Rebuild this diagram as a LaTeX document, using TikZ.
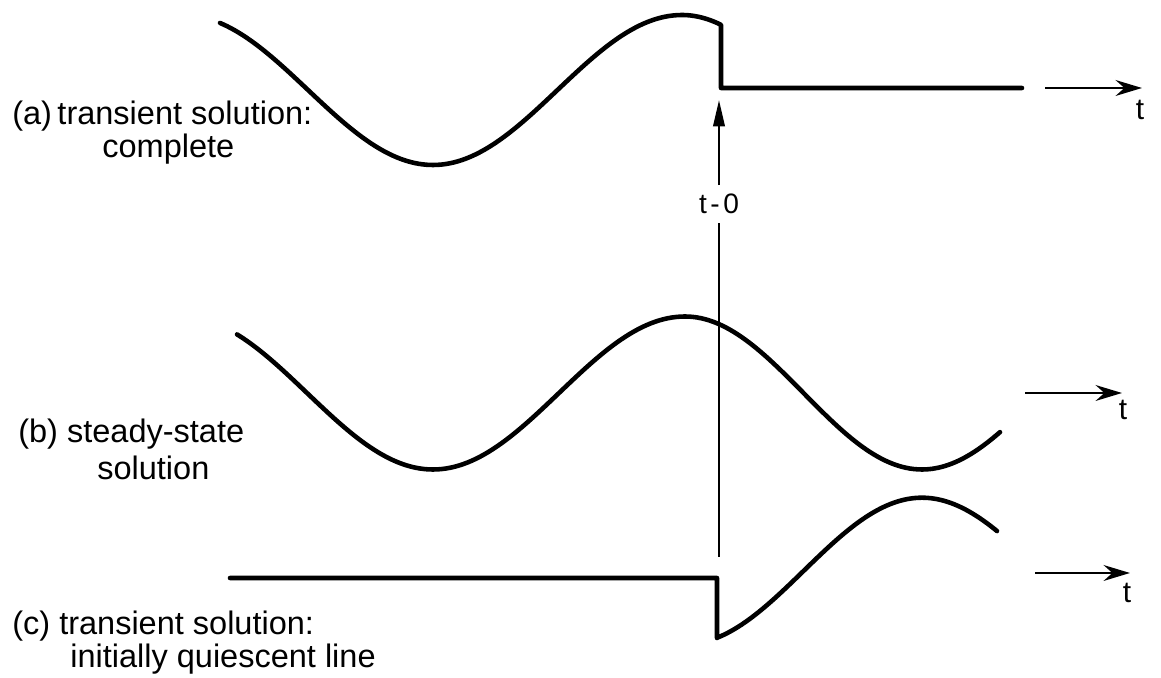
\documentclass[tikz,border=0pt]{standalone}
\usepackage{fontspec}
\setmainfont{Liberation Sans}
\usetikzlibrary{arrows.meta}
\begin{document}
\begin{tikzpicture}[x=0.02cm,y=-0.02cm,
  wave/.style={line width=2.6pt,line join=round,line cap=round},
  taxis/.style={line width=1.6pt,-{Stealth[length=15pt,width=9pt,inset=5pt]}},
  zeroline/.style={line width=1.4pt},
  lbl/.style={font=\fontsize{18.5}{22}\selectfont,inner sep=0pt,anchor=base west},
  tlbl/.style={font=\fontsize{17}{20}\selectfont,inner sep=0pt,anchor=base}]
\useasboundingbox (0,0) rectangle (1161,678);

% (a) complete transient solution
\draw[wave] plot[domain=220:433,samples=60] (\x,{90-75*cos(((\x-183)/250)*180)})
  -- plot[domain=433:682,samples=60] (\x,{90+75*cos(((\x-433)/249)*180)})
  -- plot[domain=682:721,samples=15] (\x,{90-75*cos(((\x-682)/237)*180)})
  -- (721,88) -- (1022,88);
\coordinate (aS) at (1045,88);
\coordinate (aE) at (1142,88);
\draw[taxis] (aS) -- (aE);
\node[tlbl] (ta) at (1140,120) {t};

% (b) steady-state solution
\draw[wave] plot[domain=237:433,samples=60] (\x,{393-76.5*cos(((\x-181)/252)*180)})
  -- plot[domain=433:685,samples=60] (\x,{393+76.5*cos(((\x-433)/252)*180)})
  -- plot[domain=685:922,samples=60] (\x,{393-76.5*cos(((\x-685)/237)*180)})
  -- plot[domain=922:1000,samples=25] (\x,{393+76.5*cos(((\x-922)/237)*180)});
\coordinate (bS) at (1025,393);
\coordinate (bE) at (1122,393);
\draw[taxis] (bS) -- (bE);
\node[tlbl] (tb) at (1123,420) {t};

% (c) transient solution, initially quiescent line
\draw[wave] (230,578) -- (717,578) -- (717,638)
  -- plot[domain=717:922,samples=60] (\x,{571+73.3*cos(((\x-685)/237)*180)})
  -- plot[domain=922:997,samples=25] (\x,{571-73.3*cos(((\x-922)/237)*180)});
\coordinate (cS) at (1035,573);
\coordinate (cE) at (1130,573);
\draw[taxis] (cS) -- (cE);
\node[tlbl] (tc) at (1127,603) {t};

% t = 0 marker
\node[font=\fontsize{16}{19}\selectfont,fill=white,inner xsep=2pt,inner ysep=0pt,minimum height=0.74cm] (tzero) at (719,204) {t\kern2pt-\kern2pt0};
\coordinate (vbot) at (719,557);
\coordinate (vtop) at (719,100);
\draw[zeroline] (vbot) -- (tzero.south);
\draw[zeroline,-{Triangle[length=15pt,width=6.5pt]}] (tzero.north) -- (vtop);

% labels
\node[lbl] (la1) at (12,125) {(a)\,transient solution:};
\node[lbl] (la2) at (102,158) {complete};
\node[lbl] (lb1) at (18,443) {(b) steady-state};
\node[lbl] (lb2) at (97,480) {solution};
\node[lbl] (lc1) at (12,635) {(c) transient solution:};
\node[lbl] (lc2) at (70,668) {initially quiescent line};
\end{tikzpicture}
\end{document}
